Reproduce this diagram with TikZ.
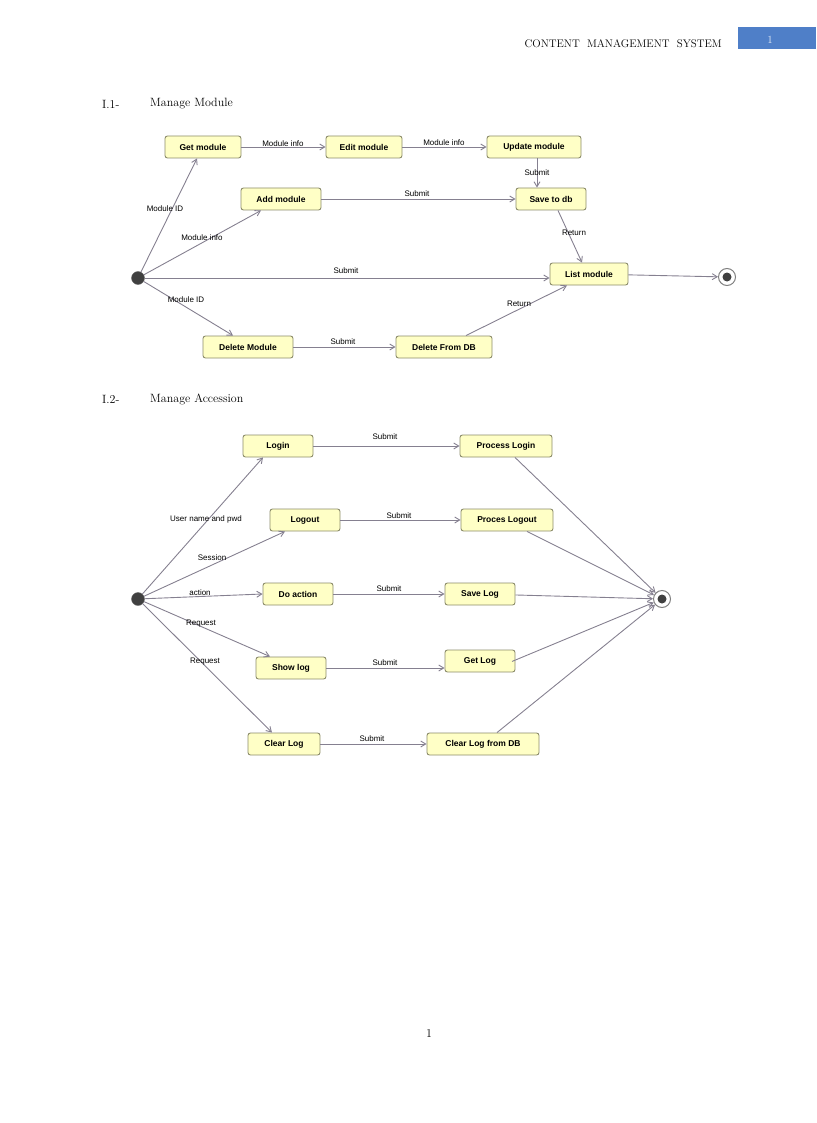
\documentclass[tikz,border=0pt]{standalone}
\usepackage{fontspec}
\setsansfont{Liberation Sans}
\usetikzlibrary{arrows.meta,calc}
\definecolor{boxfill}{HTML}{FFFFC6}
\definecolor{boxline}{HTML}{8C8C6A}
\definecolor{edge}{HTML}{858090}
\definecolor{hdrblue}{HTML}{4F7FC8}
\tikzset{
 st/.style={draw=boxline,fill=boxfill,rounded corners=2.5pt,line width=0.9pt,minimum height=22pt,inner sep=0pt,font=\sffamily\bfseries\fontsize{8.5}{9}\selectfont},
 tr/.style={draw=edge,line width=0.9pt,-{Straight Barb[length=5pt,width=6pt]}},
 lb/.style={font=\sffamily\fontsize{8}{9}\selectfont,inner sep=0pt},
 ini/.style={circle,fill=black!75,draw=black!60,minimum size=13pt,inner sep=0pt},
 fin/.style={circle,draw=black!50,line width=1pt,fill=white,minimum size=17pt,inner sep=0pt,path picture={\fill[black!75] (path picture bounding box.center) circle (4.5pt);}},
 hd/.style={font=\fontsize{12}{14}\selectfont,anchor=west,inner sep=0pt}
}
\begin{document}
\begin{tikzpicture}[x=1pt,y=-1pt]
\useasboundingbox (0,0) rectangle (816,1123);
% header
\node[anchor=east,inner sep=0pt,font=\fontsize{11}{13}\selectfont] (hdr) at (722,44) {CONTENT\ \ MANAGEMENT\ \ SYSTEM};
\fill[hdrblue] (738,27) rectangle (816,49);
\node[text=white!85!hdrblue,font=\fontsize{11}{13}\selectfont] (pg) at (770,40) {1};
\node[hd] (h1a) at (102,104) {I.1-};
\node[hd] (h1b) at (150,104) {Manage Module};
\node[hd] (h2a) at (102,399) {I.2-};
\node[hd] (h2b) at (150,399) {Manage Accession};
\node[font=\fontsize{12}{14}\selectfont] (foot) at (429,1033) {1};
% top diagram
\node[ini] (i1) at (138,278) {};
\node[fin] (f1) at (727,277) {};
\node[st,minimum width=76pt] (get) at (203,147) {Get module};
\node[st,minimum width=76pt] (edit) at (364,147) {Edit module};
\node[st,minimum width=94pt] (upd) at (534,147) {Update module};
\node[st,minimum width=80pt] (add) at (281,199) {Add module};
\node[st,minimum width=70pt] (save) at (551,199) {Save to db};
\node[st,minimum width=78pt] (list) at (589,274) {List module};
\node[st,minimum width=90pt] (delm) at (248,347) {Delete Module};
\node[st,minimum width=96pt] (deldb) at (444,347) {Delete From DB};
\draw[tr] (get) -- (edit);
\draw[tr] (edit) -- (upd);
\draw[tr] (upd.south -| 537,0) -- (save.north -| 537,0);
\draw[tr] (add) -- (save);
\draw[tr] ($(save.south)+(7,0)$) -- ($(list.north)+(-7,0)$);
\draw[tr] (i1) -- ($(get.south)+(-6,0)$);
\draw[tr] (i1) -- ($(add.south)+(-20,0)$);
\draw[tr] (i1) -- (list.west |- i1);
\draw[tr] (list) -- (f1);
\draw[tr] (i1) -- ($(delm.north)+(-15,0)$);
\draw[tr] (delm) -- (deldb);
\draw[tr] ($(deldb.north)+(22,0)$) -- ($(list.south)+(-22,0)$);
\node[lb] (l1) at (283,144) {Module info};
\node[lb] (l2) at (444,143) {Module info};
\node[lb] (l3) at (537,173) {Submit};
\node[lb] (l4) at (417,194) {Submit};
\node[lb] (l5) at (165,209) {Module ID};
\node[lb] (l6) at (202,238) {Module info};
\node[lb] (l7) at (346,271) {Submit};
\node[lb] (l8) at (574,233) {Return};
\node[lb] (l9) at (186,300) {Module ID};
\node[lb] (l10) at (519,304) {Return};
\node[lb] (l11) at (343,342) {Submit};
% bottom diagram
\node[ini] (i2) at (138,599) {};
\node[fin] (f2) at (662,599) {};
\node[st,minimum width=70pt] (login) at (278,446) {Login};
\node[st,minimum width=92pt] (plogin) at (506,446) {Process Login};
\node[st,minimum width=70pt] (logout) at (305,520) {Logout};
\node[st,minimum width=92pt] (plogout) at (507,520) {Proces Logout};
\node[st,minimum width=70pt] (doact) at (298,594) {Do action};
\node[st,minimum width=70pt] (slog) at (480,594) {Save Log};
\node[st,minimum width=70pt] (show) at (291,668) {Show log};
\node[st,minimum width=70pt] (glog) at (480,661) {Get Log};
\node[st,minimum width=72pt] (clear) at (284,744) {Clear Log};
\node[st,minimum width=112pt] (cldb) at (483,744) {Clear Log from DB};
\draw[tr] (i2) -- ($(login.south)+(-15,0)$);
\draw[tr] (i2) -- ($(logout.south)+(-20,0)$);
\draw[tr] (i2) -- (doact.west);
\draw[tr] (i2) -- ($(show.north)+(-21,0)$);
\draw[tr] (i2) -- ($(clear.north)+(-12,0)$);
\draw[tr] (login) -- (plogin);
\draw[tr] (logout) -- (plogout);
\draw[tr] (doact) -- (slog);
\draw[tr] (show.east) -- (glog.west |- show.east);
\draw[tr] (clear) -- (cldb);
\draw[tr] ($(plogin.south)+(9,0)$) -- (f2);
\draw[tr] ($(plogout.south)+(20,0)$) -- (f2);
\draw[tr] (slog) -- (f2);
\draw[tr] ($(glog.south)+(32,-11)$) -- (f2);
\draw[tr] ($(cldb.north)+(14,0)$) -- (f2);
\node[lb] (m1) at (385,437) {Submit};
\node[lb] (m2) at (399,516) {Submit};
\node[lb] (m3) at (389,589) {Submit};
\node[lb] (m4) at (385,663) {Submit};
\node[lb] (m5) at (372,739) {Submit};
\node[lb] (m6) at (206,519) {User name and pwd};
\node[lb] (m7) at (212,558) {Session};
\node[lb] (m8) at (200,593) {action};
\node[lb] (m9) at (201,624) {Request};
\node[lb] (m10) at (205,662) {Request};
\end{tikzpicture}
\end{document}
